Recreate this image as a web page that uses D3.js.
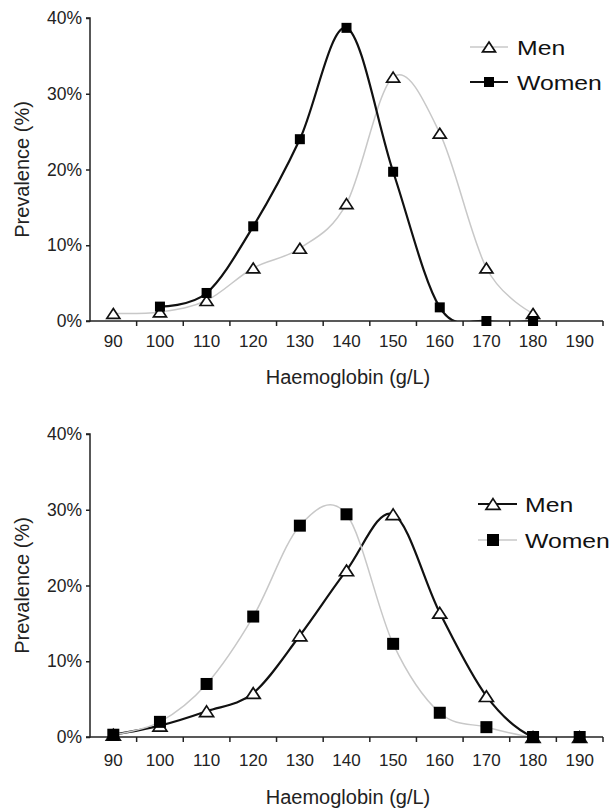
<!DOCTYPE html>
<html>
<head>
<meta charset="utf-8">
<script src="https://cdn.jsdelivr.net/npm/d3@7"></script>
<style>
  html, body { margin: 0; padding: 0; background: #fff; }
  svg { display: block; font-family: "Liberation Sans", Arial, sans-serif; }
</style>
</head>
<body>
<svg id="chart" width="613" height="808"></svg>
<script>
// Haemoglobin categories (g/L)
const haemoglobin = [90, 100, 110, 120, 130, 140, 150, 160, 170, 180, 190];
const yTicks = [0, 10, 20, 30, 40];

// Panel 1 prevalence (%) by haemoglobin class
const topMen   = [1.0, 1.2, 2.7, 7.0, 9.6, 15.5, 32.2, 24.8, 7.0, 1.0, null];
const topWomen = [null, 1.9, 3.7, 12.5, 24.0, 38.7, 19.7, 1.8, 0, 0, null];

// Panel 2 prevalence (%) by haemoglobin class
const bottomMen   = [0.3, 1.5, 3.4, 5.8, 13.4, 22.0, 29.4, 16.4, 5.4, 0, 0];
const bottomWomen = [0.3, 2.0, 7.0, 15.9, 27.9, 29.4, 12.3, 3.2, 1.3, 0, 0];

const seriesNames = ["Men", "Women"];

const svg = d3.select("#chart");
const DARK = "#111";
const LIGHT = "#c8c8c8";
const AXIS = "#222";
const FONT = "Liberation Sans, Arial, sans-serif";

const x = d3.scaleBand().domain(haemoglobin).range([90, 603]).paddingInner(0).paddingOuter(0);
const cx = v => x(v) + x.bandwidth() / 2;

const panels = [
  {
    id: "p1", top: 18, bottom: 321,
    men: topMen, women: topWomen,
    menStyle:   { stroke: LIGHT, width: 1.5 },
    womenStyle: { stroke: DARK,  width: 2.2 },
    menSize: 11, womenSize: 10,
    legend: { x1: 470, x2: 508, mx: 489, tx: 517, y: [47, 82] },
    tickPad: 14, titleY: 384
  },
  {
    id: "p2", top: 434, bottom: 737,
    men: bottomMen, women: bottomWomen,
    menStyle:   { stroke: DARK,  width: 2.2 },
    womenStyle: { stroke: LIGHT, width: 1.5 },
    menSize: 12, womenSize: 12,
    legend: { x1: 478, x2: 517, mx: 493, tx: 525, y: [504, 540] },
    tickPad: 17, titleY: 804
  }
];

function triangle(g, px, py, s) {
  const h = s * 0.9;
  g.append("path")
    .attr("d", `M${px},${py - h / 2}L${px + s / 2 + 1},${py + h / 2}L${px - s / 2 - 1},${py + h / 2}Z`)
    .attr("fill", "#fff").attr("stroke", DARK).attr("stroke-width", 1.7)
    .attr("stroke-linejoin", "miter");
}
function square(g, px, py, s) {
  g.append("rect")
    .attr("x", px - s / 2).attr("y", py - s / 2)
    .attr("width", s).attr("height", s)
    .attr("fill", "#000");
}

panels.forEach(p => {
  const y = d3.scaleLinear().domain([0, 40]).range([p.bottom, p.top]);
  const g = svg.append("g");

  g.append("clipPath").attr("id", "clip-" + p.id)
    .append("rect").attr("x", 90).attr("y", p.top - 20).attr("width", 523).attr("height", p.bottom - p.top + 20);

  // smoothed series lines
  const line = d3.line()
    .x(d => cx(d.k)).y(d => y(d.v))
    .curve(d3.curveCardinal.tension(0));

  const pts = arr => haemoglobin.map((k, i) => ({ k, v: arr[i] })).filter(d => d.v !== null);

  g.append("path").datum(pts(p.men))
    .attr("d", line).attr("fill", "none")
    .attr("stroke", p.menStyle.stroke).attr("stroke-width", p.menStyle.width)
    .attr("clip-path", `url(#clip-${p.id})`);
  g.append("path").datum(pts(p.women))
    .attr("d", line).attr("fill", "none")
    .attr("stroke", p.womenStyle.stroke).attr("stroke-width", p.womenStyle.width)
    .attr("clip-path", `url(#clip-${p.id})`);

  // axes
  const yAxis = d3.axisLeft(y).tickValues(yTicks).tickFormat(d => d + "%").tickSize(4).tickPadding(4);
  const ya = g.append("g").attr("transform", "translate(90,0)").call(yAxis);
  ya.select(".domain").attr("stroke", AXIS).attr("stroke-width", 1.5).attr("d", `M-4,${p.top}H0V${p.bottom}H-4`);
  ya.selectAll(".tick line").attr("stroke", AXIS).attr("stroke-width", 1.5);
  ya.selectAll(".tick text").attr("font-size", 17.5).attr("fill", "#222").attr("font-family", FONT);

  const xAxis = d3.axisBottom(x).tickSize(0).tickPadding(p.tickPad);
  const xa = g.append("g").attr("transform", `translate(0,${p.bottom})`).call(xAxis);
  xa.select(".domain").attr("stroke", AXIS).attr("stroke-width", 1.5).attr("d", "M90,0H603");
  xa.selectAll(".tick text").attr("font-size", 17).attr("fill", "#222").attr("font-family", FONT);
  // category boundary tick marks
  const edges = haemoglobin.map(k => x(k)).concat([x(haemoglobin[haemoglobin.length - 1]) + x.bandwidth()]);
  xa.selectAll("line.edge").data(edges.slice(1)).join("line").attr("class", "edge")
    .attr("x1", d => d).attr("x2", d => d).attr("y1", 0).attr("y2", 5)
    .attr("stroke", AXIS).attr("stroke-width", 1.5);

  // markers
  const mg = g.append("g");
  p.men.forEach((v, i) => { if (v !== null) triangle(mg, cx(haemoglobin[i]), y(v), p.menSize); });
  p.women.forEach((v, i) => { if (v !== null) square(mg, cx(haemoglobin[i]), y(v), p.womenSize); });

  // axis titles
  g.append("text").attr("x", 348).attr("y", p.titleY).attr("text-anchor", "middle")
    .attr("font-size", 20).attr("fill", "#222").text("Haemoglobin (g/L)");
  g.append("text").attr("transform", `translate(29,${(p.top + p.bottom) / 2}) rotate(-90)`)
    .attr("text-anchor", "middle").attr("font-size", 20).attr("fill", "#222").text("Prevalence (%)");

  // legend
  const L = p.legend;
  const lg = g.append("g");
  [p.menStyle, p.womenStyle].forEach((st, i) => {
    lg.append("line").attr("x1", L.x1).attr("x2", L.x2).attr("y1", L.y[i]).attr("y2", L.y[i])
      .attr("stroke", st.stroke).attr("stroke-width", st.width);
    if (i === 0) triangle(lg, L.mx, L.y[i], p.menSize);
    else square(lg, L.mx, L.y[i], p.womenSize);
    lg.append("text").attr("transform", `translate(${L.tx},${L.y[i] + 7.5}) scale(1.18,1)`)
      .attr("font-size", 21).attr("fill", "#111").text(seriesNames[i]);
  });
});
</script>
</body>
</html>
